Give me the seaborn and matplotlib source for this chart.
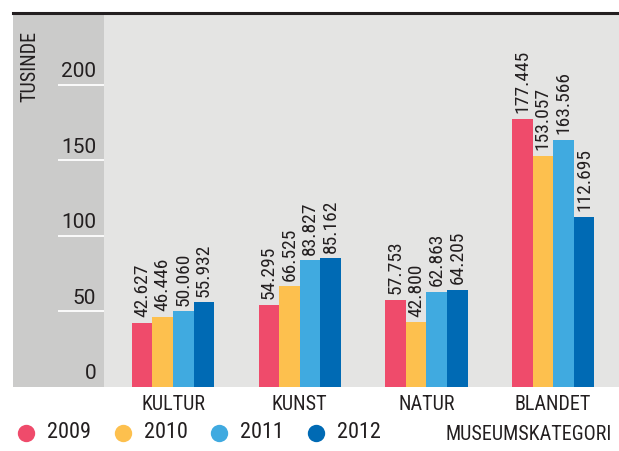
import matplotlib
matplotlib.use("Agg")
import matplotlib.pyplot as plt
import pandas as pd
import seaborn as sns
from matplotlib.lines import Line2D

kategorier = ["KULTUR", "KUNST", "NATUR", "BLANDET"]
aar = ["2009", "2010", "2011", "2012"]
v2009 = [42.627, 54.295, 57.753, 177.445]
v2010 = [46.446, 66.525, 42.800, 153.057]
v2011 = [50.060, 83.827, 62.863, 163.566]
v2012 = [55.932, 85.162, 64.205, 112.695]
yticks = [0, 50, 100, 150, 200]

farver = ["#ef4b6b", "#fdc04e", "#40aae0", "#006ab4"]
lys = "#e4e4e3"
moerk = "#cbcbca"
tekst = "#231f20"

sns.set_style("white")
plt.rcParams["font.family"] = ["Roboto Condensed", "DejaVu Sans"]

rows = []
for a, vals in zip(aar, [v2009, v2010, v2011, v2012]):
    for k, v in zip(kategorier, vals):
        rows.append({"kategori": k, "aar": a, "vaerdi": v})
df = pd.DataFrame(rows)

fig = plt.figure(figsize=(6.19, 4.51), dpi=100)
W, H = 619, 451
ax = fig.add_axes([13 / W, (H - 387) / H, (W - 13) / W, (387 - 13) / H])
ax.set_facecolor(lys)

sns.barplot(data=df, x="kategori", y="vaerdi", hue="aar", order=kategorier,
            hue_order=aar, palette=farver, width=0.65, saturation=1,
            linewidth=0, legend=False, ax=ax)

# pixel -> data: midten af KULTUR ligger ved x=173px, 126.7px pr. kategori
scale = 126.7
x0 = lambda px: (px - 173) / scale
ax.set_xlim(x0(13), x0(619))
ax.set_ylim(0, 247.5)

ax.axvspan(x0(13), x0(104), color=moerk, lw=0, zorder=0)
for t in yticks:
    if t > 0:
        ax.hlines(t, x0(58), x0(104), color="white", lw=1.3, zorder=1)
    ax.text(x0(96), t + 2.5, str(t), ha="right", va="bottom", fontsize=15,
            family=["Roboto", "DejaVu Sans"], color=tekst)

for cont, vals in zip(ax.containers, [v2009, v2010, v2011, v2012]):
    ax.bar_label(cont, labels=[f"{v:.3f}" for v in vals], rotation=90,
                 padding=4, fontsize=14, color=tekst)

for s in ["left", "right", "bottom"]:
    ax.spines[s].set_visible(False)
ax.spines["top"].set_color(tekst)
ax.spines["top"].set_linewidth(2.2)
ax.set_yticks([])
ax.set_xlabel("")
ax.set_ylabel("")
ax.tick_params(axis="x", length=0, pad=6, labelsize=14.5, labelcolor=tekst)

fig.text(30 / W, 1 - 31 / H, "TUSINDE", rotation=90, ha="center", va="top",
         fontsize=14.5, color=tekst)
fig.text(612 / W, 1 - 434 / H, "MUSEUMSKATEGORI", ha="right", va="center",
         fontsize=14.5, color=tekst)

# forklaring: cirkel + aarstal, ca. 97px mellem hvert element
ly = 1 - 433 / H
for i, (a, c) in enumerate(zip(aar, farver)):
    cx = 26 + i * 96.7
    fig.add_artist(Line2D([cx / W], [ly], transform=fig.transFigure, marker="o",
                          ls="", markersize=12.5, markeredgewidth=0, color=c))
    fig.text((cx + 21) / W, ly, a, ha="left", va="center", fontsize=16,
             color=tekst)

fig.savefig("out.png", dpi=100)
